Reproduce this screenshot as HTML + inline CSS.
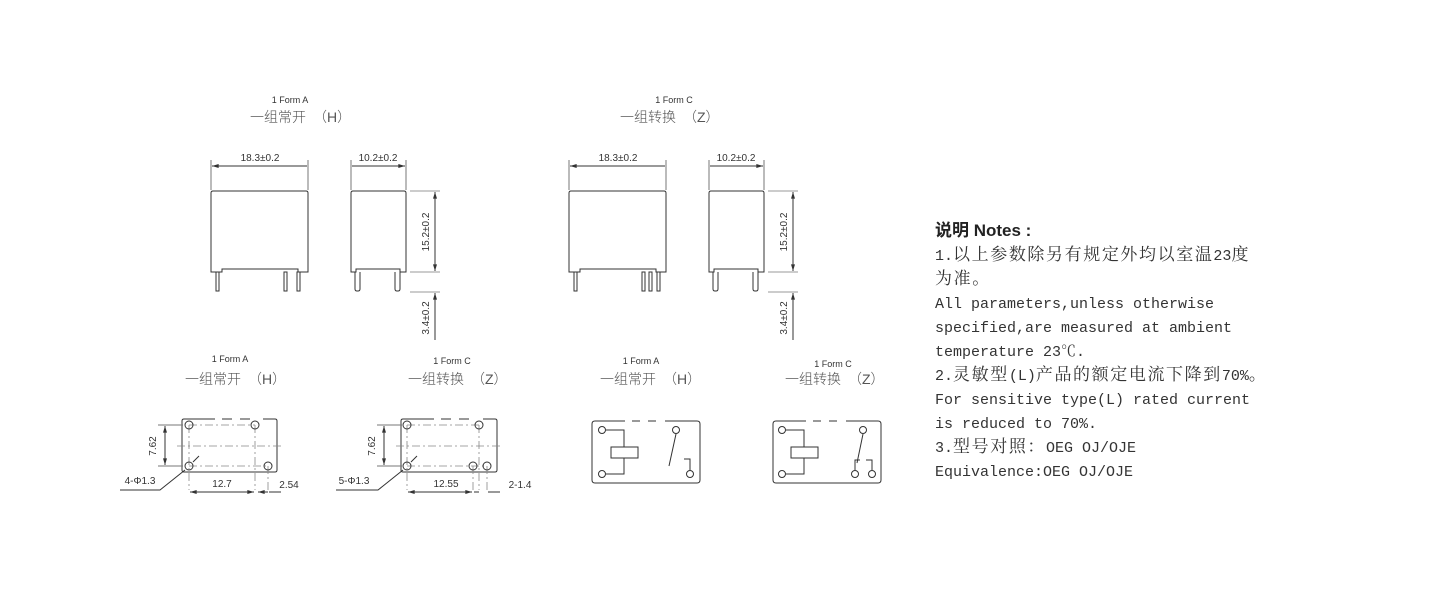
<!DOCTYPE html>
<html><head><meta charset="utf-8"><style>
html,body{margin:0;padding:0;background:#fff;width:1440px;height:600px;overflow:hidden}
svg{position:absolute;left:0;top:0}
.n{position:absolute;left:935px;font-family:"Liberation Mono","Noto Serif CJK SC",monospace;font-size:15px;color:#333;line-height:24px}
.n div{height:24px;line-height:24px;white-space:pre}
.c{font-size:17px;letter-spacing:1.6px;font-family:"Noto Serif CJK SC",serif;line-height:0}
</style></head><body>
<svg width="1440" height="600" viewBox="0 0 1440 600" xmlns="http://www.w3.org/2000/svg">
<defs><marker id="a" viewBox="0 0 10 6" refX="10" refY="3" markerWidth="8" markerHeight="4" orient="auto-start-reverse"><path d="M0,0L10,3L0,6z" fill="#333"/></marker></defs>
<g font-family="Liberation Sans,sans-serif" fill="#333" font-size="10" text-anchor="middle">
<text x="290" y="103" font-size="9">1 Form A</text>
<text x="674" y="103" font-size="9">1 Form C</text>
<text x="230" y="362" font-size="9">1 Form A</text>
<text x="452" y="364" font-size="9">1 Form C</text>
<text x="641" y="364" font-size="9">1 Form A</text>
<text x="833" y="367" font-size="9">1 Form C</text>
<text x="260" y="161">18.3±0.2</text>
<text x="378" y="161">10.2±0.2</text>
<text x="618" y="161">18.3±0.2</text>
<text x="736" y="161">10.2±0.2</text>
<text transform="translate(429,232) rotate(-90)">15.2±0.2</text>
<text transform="translate(429,318) rotate(-90)">3.4±0.2</text>
<text transform="translate(787,232) rotate(-90)">15.2±0.2</text>
<text transform="translate(787,318) rotate(-90)">3.4±0.2</text>
<text transform="translate(156,446) rotate(-90)">7.62</text>
<text transform="translate(375,446) rotate(-90)">7.62</text>
<text x="140" y="484">4-Φ1.3</text>
<text x="222" y="487">12.7</text>
<text x="289" y="488">2.54</text>
<text x="354" y="484">5-Φ1.3</text>
<text x="446" y="487">12.55</text>
<text x="520" y="488">2-1.4</text>
</g>
<g font-family="Liberation Sans,Noto Sans CJK SC,sans-serif" fill="#555" font-size="14" font-weight="300">
<text x="250" y="122">一组常开　（H）</text>
<text x="620" y="122">一组转换　（Z）</text>
<text x="185" y="384">一组常开　（H）</text>
<text x="408" y="384">一组转换　（Z）</text>
<text x="600" y="384">一组常开　（H）</text>
<text x="785" y="384">一组转换　（Z）</text>
</g>
<g stroke="#333" fill="none" stroke-width="1">
<path d="M211,193q0,-2 2,-2h93q2,0 2,2v79h-10v-3h-76v3h-11z"/>
<rect x="216" y="272" width="3" height="19"/><rect x="284" y="272" width="3" height="19"/><rect x="297" y="272" width="3" height="19"/>
<path d="M211,160v30M308,160v30M351,160v30M406,160v30" stroke="#777"/>
<path d="M212,166H307M352,166H405" marker-start="url(#a)" marker-end="url(#a)"/>
<path d="M351,193q0,-2 2,-2h51q2,0 2,2v79h-6v-3h-44v3h-5z"/>
<path d="M355,272v17q0,2 2,2h1q2,0 2,-2v-17M395,272v17q0,2 2,2h1q2,0 2,-2v-17"/>
<path d="M410,191h30M410,272h30M410,292h30" stroke="#999"/>
<path d="M435,192V271" marker-start="url(#a)" marker-end="url(#a)"/>
<path d="M435,340V293" marker-end="url(#a)"/>
<path d="M569,193q0,-2 2,-2h93q2,0 2,2v79h-10v-3h-76v3h-11z"/>
<rect x="574" y="272" width="3" height="19"/><rect x="642" y="272" width="3" height="19"/><rect x="649" y="272" width="3" height="19"/><rect x="657" y="272" width="3" height="19"/>
<path d="M569,160v30M666,160v30M709,160v30M764,160v30" stroke="#777"/>
<path d="M570,166H665M710,166H763" marker-start="url(#a)" marker-end="url(#a)"/>
<path d="M709,193q0,-2 2,-2h51q2,0 2,2v79h-6v-3h-44v3h-5z"/>
<path d="M713,272v17q0,2 2,2h1q2,0 2,-2v-17M753,272v17q0,2 2,2h1q2,0 2,-2v-17"/>
<path d="M768,191h30M768,272h30M768,292h30" stroke="#999"/>
<path d="M793,192V271" marker-start="url(#a)" marker-end="url(#a)"/>
<path d="M793,340V293" marker-end="url(#a)"/>
<path d="M215,419h-31q-2,0 -2,2v49q0,2 2,2h91q2,0 2,-2v-49q0,-2 -2,-2h-12"/>
<path d="M222,419h10M240,419h10" />
<path d="M189,425H255M177,446H283M189,466H268M189,425V490M255,425V490M268,466V490" stroke-dasharray="8,3,2,3" stroke="#888" stroke-width="0.8"/>
<circle cx="189" cy="425" r="4"/><circle cx="255" cy="425" r="4"/><circle cx="189" cy="466" r="4"/><circle cx="268" cy="466" r="4"/>
<path d="M158,425h25M158,466h25" stroke="#777"/>
<path d="M165,426V465" marker-start="url(#a)" marker-end="url(#a)"/>
<path d="M120,490h40l25,-20M193,462l6,-6"/>
<path d="M190,492H254" marker-start="url(#a)" marker-end="url(#a)"/>
<path d="M269,492h12"/><path d="M268,492h-10" marker-end="url(#a)"/>
<path d="M434,419h-31q-2,0 -2,2v49q0,2 2,2h92q2,0 2,-2v-49q0,-2 -2,-2h-12"/>
<path d="M441,419h10M459,419h10"/>
<path d="M407,425H479M396,446H502M407,466H487M407,425V490M479,425V490M473,466V490M487,466V490" stroke-dasharray="8,3,2,3" stroke="#888" stroke-width="0.8"/>
<circle cx="407" cy="425" r="4"/><circle cx="479" cy="425" r="4"/><circle cx="407" cy="466" r="4"/><circle cx="473" cy="466" r="4"/><circle cx="487" cy="466" r="4"/>
<path d="M377,425h25M377,466h25" stroke="#777"/>
<path d="M384,426V465" marker-start="url(#a)" marker-end="url(#a)"/>
<path d="M336,490h42l25,-20M411,462l6,-6"/>
<path d="M408,492H472" marker-start="url(#a)" marker-end="url(#a)"/>
<path d="M488,492h12"/><path d="M479,492h-5"/>
<path d="M625,421h-30q-3,0 -3,3v56q0,3 3,3h102q3,0 3,-3v-56q0,-3 -3,-3h-32M632,421h8M648,421h8M632,483h8M648,483h8M625,483h-2"/>
<circle cx="602" cy="430" r="3.5"/><circle cx="602" cy="474" r="3.5"/><circle cx="676" cy="430" r="3.5"/><circle cx="690" cy="474" r="3.5"/>
<path d="M606,430h18v17M624,458v16h-18"/>
<rect x="611" y="447" width="27" height="11"/>
<path d="M676,434L669,466M684,459h6v11"/>
<path d="M806,421h-30q-3,0 -3,3v56q0,3 3,3h102q3,0 3,-3v-56q0,-3 -3,-3h-32M813,421h8M829,421h8M813,483h8M829,483h8M806,483h-2"/>
<circle cx="782" cy="430" r="3.5"/><circle cx="782" cy="474" r="3.5"/><circle cx="863" cy="430" r="3.5"/><circle cx="855" cy="474" r="3.5"/><circle cx="872" cy="474" r="3.5"/>
<path d="M786,430h18v17M804,458v16h-18"/>
<rect x="791" y="447" width="27" height="11"/>
<path d="M863,434L857,463M855,470v-10h5M872,470v-10h-6"/>
</g>
</svg>
<div class="n" style="top:219px;font-family:'Liberation Sans','Noto Sans CJK SC',sans-serif;font-weight:bold;font-size:17px;color:#222">说明 Notes :</div>
<div class="n" style="top:245px"><div>1.<span class="c">以上参数除另有规定外均以室温</span>23<span class="c">度</span></div><div><span class="c">为准。</span></div><div>All parameters,unless otherwise</div><div>specified,are measured at ambient</div><div>temperature 23℃.</div><div>2.<span class="c">灵敏型</span>(L)<span class="c">产品的额定电流下降到</span>70%<span class="c">。</span></div><div>For sensitive type(L) rated current</div><div>is reduced to 70%.</div><div>3.<span class="c">型号对照：</span>OEG OJ/OJE</div><div>Equivalence:OEG OJ/OJE</div></div>
</body></html>
